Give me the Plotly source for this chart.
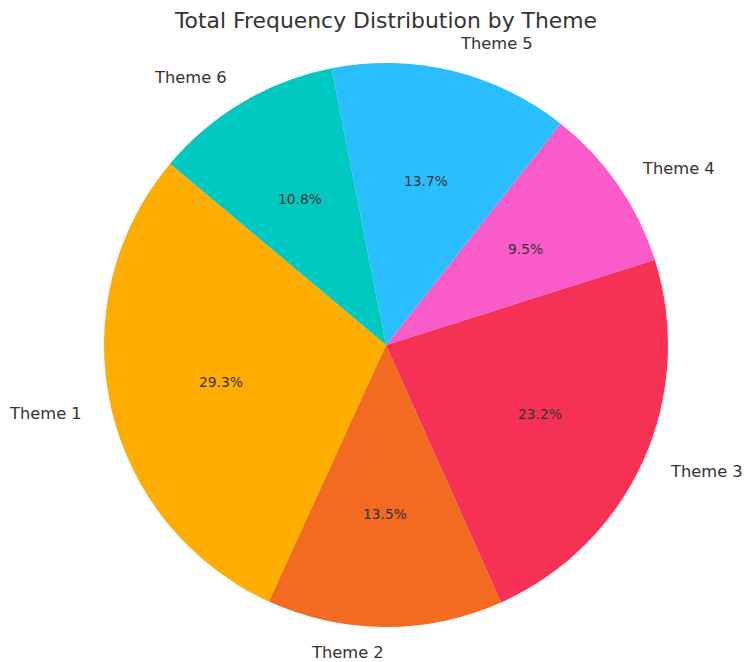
import math
import plotly.graph_objects as go

themes = ["Theme 1", "Theme 2", "Theme 3", "Theme 4", "Theme 5", "Theme 6"]
shares = [29.3, 13.5, 23.2, 9.5, 13.7, 10.8]
colors = ["#FFAD00", "#F26B21", "#F53255", "#F95BC8", "#2BBEFE", "#00C9C1"]
start_angle = 140  # degrees, matplotlib-style (counterclockwise from 3 o'clock)

W, H = 745, 662
cx, cy, R = 386, 345, 282
margin = dict(l=cx - R, r=W - (cx + R), t=cy - R, b=H - (cy + R))

total = sum(shares)
# plotly (counterclockwise): first slice's counterclockwise edge sits at `rotation` (clockwise from 12 o'clock)
first_end = start_angle + 360 * shares[0] / total
rotation = 90 - first_end

fig = go.Figure(go.Pie(
    labels=themes, values=shares, sort=False, direction="counterclockwise",
    rotation=rotation, marker=dict(colors=colors, line=dict(width=0)),
    textinfo="none", hoverinfo="label+percent", showlegend=False,
))

ang = start_angle
annotations = []
for name, v in zip(themes, shares):
    span = 360 * v / total
    mid = math.radians(ang + span / 2)
    ang += span
    c, s = math.cos(mid), math.sin(mid)
    annotations.append(dict(
        x=0.5 + 0.5 * 1.1 * c, y=0.5 + 0.5 * 1.1 * s, xref="paper", yref="paper",
        text=name, showarrow=False, xanchor="left" if c > 0 else "right", yanchor="middle",
        yshift=3 if s < -0.9 else 0, borderpad=0,
        font=dict(family="DejaVu Sans", size=16.3, color="#333333"),
    ))
    annotations.append(dict(
        x=0.5 + 0.5 * 0.6 * c, y=0.5 + 0.5 * 0.6 * s, xref="paper", yref="paper",
        text=f"{100 * v / total:.1f}%", showarrow=False, xanchor="center", yanchor="middle",
        font=dict(family="DejaVu Sans", size=13.8, color="#333333"),
    ))

fig.update_layout(
    width=W, height=H, margin=margin, paper_bgcolor="white", plot_bgcolor="white",
    title=dict(text="Total Frequency Distribution by Theme", x=0.5, xref="paper", xanchor="center",
               y=1 - 20 / H, yref="container", yanchor="middle",
               font=dict(family="DejaVu Sans", size=21.9, color="#333333")),
    annotations=annotations,
)
fig.write_html("out.html")
